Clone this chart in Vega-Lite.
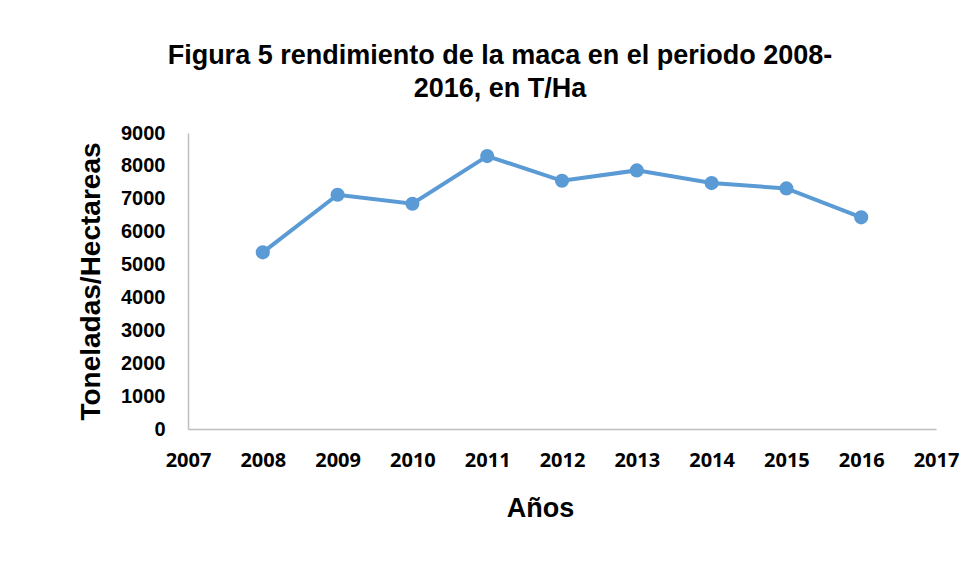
{
  "$schema": "https://vega.github.io/schema/vega-lite/v6.json",
  "autosize": {"type": "none"},
  "width": 748,
  "height": 296,
  "padding": {"left": 188, "top": 133, "right": 38, "bottom": 141},
  "background": "white",
  "title": {
    "text": ["Figura 5 rendimiento de la maca en el periodo 2008-", "2016, en T/Ha"],
    "font": "Liberation Sans",
    "fontSize": 27,
    "fontWeight": "bold",
    "color": "#000000",
    "anchor": "middle",
    "frame": "group",
    "dx": -62,
    "offset": 20,
    "lineHeight": 33
  },
  "data": {
    "values": [
      {"year": 2008, "value": 5371},
      {"year": 2009, "value": 7122},
      {"year": 2010, "value": 6848},
      {"year": 2011, "value": 8298},
      {"year": 2012, "value": 7547},
      {"year": 2013, "value": 7863},
      {"year": 2014, "value": 7477},
      {"year": 2015, "value": 7316},
      {"year": 2016, "value": 6435}
    ]
  },
  "config": {"view": {"stroke": null}},
  "encoding": {
    "x": {
      "field": "year",
      "type": "quantitative",
      "scale": {"domain": [2007, 2017], "nice": false, "zero": false},
      "axis": {
        "title": "Años",
        "values": [2007, 2008, 2009, 2010, 2011, 2012, 2013, 2014, 2015, 2016, 2017],
        "format": "d",
        "grid": false,
        "ticks": false,
        "domainColor": "#bfbfbf",
        "domainWidth": 1.5,
        "labelFont": "Open Sans",
        "labelFontSize": 20,
        "labelFontWeight": "bold",
        "labelColor": "#000000",
        "labelPadding": 21,
        "labelFlush": false,
        "labelOverlap": false,
        "titleFont": "Liberation Sans",
        "titleFontSize": 27,
        "titleFontWeight": "bold",
        "titleColor": "#000000",
        "titlePadding": 25,
        "titleX": 352
      }
    },
    "y": {
      "field": "value",
      "type": "quantitative",
      "scale": {"domain": [0, 9000], "nice": false},
      "axis": {
        "title": "Toneladas/Hectareas",
        "values": [0, 1000, 2000, 3000, 4000, 5000, 6000, 7000, 8000, 9000],
        "format": "d",
        "grid": false,
        "ticks": false,
        "domainColor": "#bfbfbf",
        "domainWidth": 1.5,
        "labelFont": "Liberation Sans",
        "labelFontSize": 20,
        "labelFontWeight": "bold",
        "labelColor": "#000000",
        "labelPadding": 23,
        "labelFlush": false,
        "labelOverlap": false,
        "titleFont": "Liberation Sans",
        "titleFontSize": 28,
        "titleFontWeight": "bold",
        "titleColor": "#000000",
        "titlePadding": 15
      }
    }
  },
  "layer": [
    {"mark": {"type": "line", "color": "#5B9BD5", "strokeWidth": 4}},
    {"mark": {"type": "point", "filled": true, "color": "#5B9BD5", "size": 200, "opacity": 1}}
  ]
}
